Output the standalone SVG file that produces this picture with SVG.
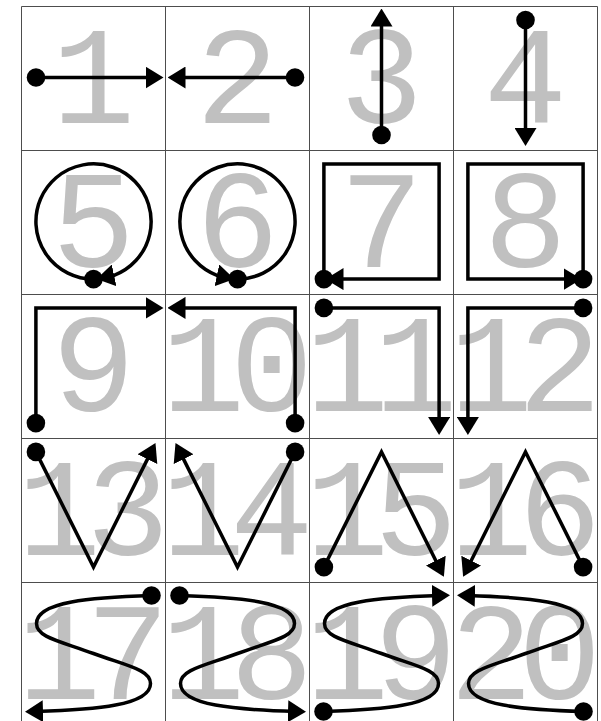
<svg xmlns="http://www.w3.org/2000/svg" width="601" height="721" viewBox="0 0 601 721">
<defs>
<style>
.grid{fill:none;stroke:#4d4d4d;stroke-width:1}
.num{font-family:"Liberation Mono","DejaVu Sans Mono",monospace;font-size:139px;fill:#c0c0c0}
.c{fill:none;stroke:#000;stroke-width:3.5;stroke-linejoin:miter;marker-end:url(#ah)}
.dot{fill:#000}
</style>
<marker id="ah" markerUnits="userSpaceOnUse" markerWidth="18" markerHeight="22" viewBox="0 0 18 22" refX="14" refY="11" orient="auto"><path d="M0,0 L18,11 L0,22 z" fill="#000"/></marker>
</defs>
<rect width="601" height="721" fill="#fff"/>
<g id="grid" class="grid">
<path d="M21.5,6.5V721M165.5,6.5V721M309.5,6.5V721M453.5,6.5V721M597.5,6.5V721M21.5,6.5H597.5M21.5,150.5H597.5M21.5,294.5H597.5M21.5,438.5H597.5M21.5,582.5H597.5"/>
</g>
<g id="labels" class="num">
<text x="51.8" y="123">1</text>
<text x="195.8" y="123">2</text>
<text x="339.8" y="123">3</text>
<text x="483.8" y="123">4</text>
<text x="51.8" y="267">5</text>
<text x="195.8" y="267">6</text>
<text x="339.8" y="267">7</text>
<text x="483.8" y="267">8</text>
<text x="51.8" y="411">9</text>
<text x="161.6" y="411" dx="0 -15">10</text>
<text x="305.6" y="411" dx="0 -15">11</text>
<text x="449.6" y="411" dx="0 -15">12</text>
<text x="17.6" y="555" dx="0 -15">13</text>
<text x="161.6" y="555" dx="0 -15">14</text>
<text x="305.6" y="555" dx="0 -15">15</text>
<text x="449.6" y="555" dx="0 -15">16</text>
<text x="17.6" y="699" dx="0 -15">17</text>
<text x="161.6" y="699" dx="0 -15">18</text>
<text x="305.6" y="699" dx="0 -15">19</text>
<text x="449.6" y="699" dx="0 -15">20</text>
</g>
<g id="connectors" class="c">
<path transform="translate(21.5,5.5)" d="M14.5,72H138"/>
<path transform="translate(165.5,5.5)" d="M129.5,72H6"/>
<path transform="translate(309.5,5.5)" d="M72,129.5V7"/>
<path transform="translate(453.5,5.5)" d="M72,14.5V136.5"/>
<path transform="translate(21.5,149.5)" d="M72,129.6A57.6,57.6 0 1 1 92.6,125.8L78.9,128.7"/>
<path transform="translate(165.5,149.5)" d="M72,129.6A57.6,57.6 0 1 0 51.4,125.8L65.1,128.7"/>
<path transform="translate(309.5,149.5)" d="M14.4,129.6V14.4H129.6V129.6H20"/>
<path transform="translate(453.5,149.5)" d="M129.6,129.6V14.4H14.4V129.6H124"/>
<path transform="translate(21.5,293.5)" d="M14.4,129.6V14.4H138"/>
<path transform="translate(165.5,293.5)" d="M129.6,129.6V14.4H6"/>
<path transform="translate(309.5,293.5)" d="M14.4,14.4H129.6V137.5"/>
<path transform="translate(453.5,293.5)" d="M129.6,14.4H14.4V137.5"/>
<path transform="translate(21.5,437.5)" d="M14.4,14.4L72,129.6L132.2,9.1"/>
<path transform="translate(165.5,437.5)" d="M129.6,14.4L72,129.6L11.8,9.1"/>
<path transform="translate(309.5,437.5)" d="M14.4,129.6L72,14.4L132.6,135.7"/>
<path transform="translate(453.5,437.5)" d="M129.6,129.6L72,14.4L11.4,135.7"/>
<path transform="translate(21.5,581.5)" d="M130,14C70,15.8 15,20 15,42C15,56 39.1,59.75 72,72C104.9,84.25 129,88 129,102C129,124 74,128.2 14,130l-6.5,0.2"/>
<path transform="translate(165.5,581.5)" d="M14,14C74,15.8 129,20 129,42C129,56 104.9,59.75 72,72C39.1,84.25 15,88 15,102C15,124 70,128.2 130,130l6.5,0.2"/>
<path transform="translate(309.5,581.5)" d="M14,130C74,128.2 129,124 129,102C129,88 104.9,84.25 72,72C39.1,59.75 15,56 15,42C15,20 70,15.8 130,14l6.5,-0.2"/>
<path transform="translate(453.5,581.5)" d="M130,130C70,128.2 15,124 15,102C15,88 39.1,84.25 72,72C104.9,59.75 129,56 129,42C129,20 74,15.8 14,14l-6.5,-0.2"/>
</g>
<g id="cell1" class="dot"><circle cx="36" cy="77.5" r="9.3"/></g>
<g id="cell2" class="dot"><circle cx="295" cy="77.5" r="9.3"/></g>
<g id="cell3" class="dot"><circle cx="381.5" cy="135" r="9.3"/></g>
<g id="cell4" class="dot"><circle cx="525.5" cy="20" r="9.3"/></g>
<g id="cell5" class="dot"><circle cx="93.5" cy="279.1" r="9.3"/></g>
<g id="cell6" class="dot"><circle cx="237.5" cy="279.1" r="9.3"/></g>
<g id="cell7" class="dot"><circle cx="323.9" cy="279.1" r="9.3"/></g>
<g id="cell8" class="dot"><circle cx="583.1" cy="279.1" r="9.3"/></g>
<g id="cell9" class="dot"><circle cx="35.9" cy="423.1" r="9.3"/></g>
<g id="cell10" class="dot"><circle cx="295.1" cy="423.1" r="9.3"/></g>
<g id="cell11" class="dot"><circle cx="323.9" cy="307.9" r="9.3"/></g>
<g id="cell12" class="dot"><circle cx="583.1" cy="307.9" r="9.3"/></g>
<g id="cell13" class="dot"><circle cx="35.9" cy="451.9" r="9.3"/></g>
<g id="cell14" class="dot"><circle cx="295.1" cy="451.9" r="9.3"/></g>
<g id="cell15" class="dot"><circle cx="323.9" cy="567.1" r="9.3"/></g>
<g id="cell16" class="dot"><circle cx="583.1" cy="567.1" r="9.3"/></g>
<g id="cell17" class="dot"><circle cx="151.5" cy="595.5" r="9.3"/></g>
<g id="cell18" class="dot"><circle cx="179.5" cy="595.5" r="9.3"/></g>
<g id="cell19" class="dot"><circle cx="323.5" cy="711.5" r="9.3"/></g>
<g id="cell20" class="dot"><circle cx="583.5" cy="711.5" r="9.3"/></g>
</svg>
